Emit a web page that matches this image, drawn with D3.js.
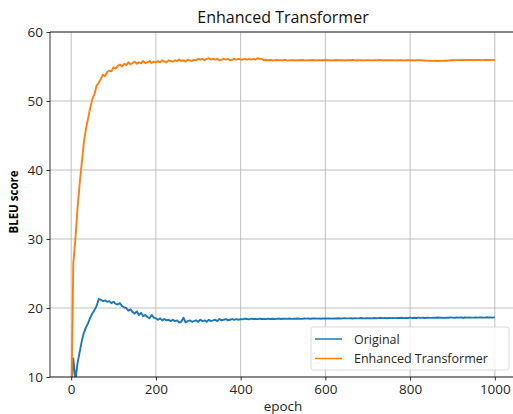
<!DOCTYPE html>
<html><head><meta charset="utf-8">
<script src="https://cdn.jsdelivr.net/npm/d3@7"></script>
<style>body{margin:0;background:#fff}svg{display:block}text{font-family:"Open Sans","Noto Sans",sans-serif}</style>
</head><body><svg id="c" width="513" height="414"></svg>
<script>
const title = "Enhanced Transformer";
const xLabel = "epoch";
const yLabel = "BLEU score";
const seriesNames = ["Original", "Enhanced Transformer"];
const seriesColors = ["#1f77b4", "#ff7f0e"];
const xTicks = [0, 200, 400, 600, 800, 1000];
const yTicks = [10, 20, 30, 40, 50, 60];
// epochs sampled every 5
const epochs = [0,5,10,15,20,25,30,35,40,45,50,55,60,65,70,75,80,85,90,95,100,105,110,115,120,125,130,135,140,145,150,155,160,165,170,175,180,185,190,195,200,205,210,215,220,225,230,235,240,245,250,255,260,265,270,275,280,285,290,295,300,305,310,315,320,325,330,335,340,345,350,355,360,365,370,375,380,385,390,395,400,405,410,415,420,425,430,435,440,445,450,455,460,465,470,475,480,485,490,495,500,505,510,515,520,525,530,535,540,545,550,555,560,565,570,575,580,585,590,595,600,605,610,615,620,625,630,635,640,645,650,655,660,665,670,675,680,685,690,695,700,705,710,715,720,725,730,735,740,745,750,755,760,765,770,775,780,785,790,795,800,805,810,815,820,825,830,835,840,845,850,855,860,865,870,875,880,885,890,895,900,905,910,915,920,925,930,935,940,945,950,955,960,965,970,975,980,985,990,995,1000];
const original = [
8,12.7,9.5,12.0,13.6,15.2,16.4,17.2,17.8,18.6,
19.2,19.7,20.3,21.3,21.2,21.0,21.1,20.9,21.0,20.7,
20.9,20.6,20.5,20.7,20.3,20.1,20.0,19.6,19.8,19.4,
19.2,19.5,19.0,19.3,18.8,19.0,18.7,18.5,19.0,18.6,
18.5,18.3,18.5,18.2,18.4,18.2,18.3,18.1,18.3,18.1,
18.2,17.9,18.0,18.6,17.9,18.1,18.2,18.0,18.1,18.2,
18.0,18.3,18.1,18.2,18.0,18.3,18.1,18.2,18.3,18.1,
18.4,18.2,18.3,18.4,18.2,18.3,18.4,18.3,18.4,18.3,
18.4,
18.35,18.45,18.4,18.35,18.45,18.4,18.42,18.38,18.45,18.4,
18.42,18.38,18.45,18.4,18.44,18.4,18.43,18.47,18.4,18.44,
18.45,18.42,18.47,18.43,18.46,18.44,18.48,18.45,18.43,18.47,
18.46,18.48,18.44,18.47,18.5,18.46,18.48,18.45,18.5,18.47,
18.48,18.5,18.46,18.5,18.48,18.52,18.48,18.5,18.53,18.49,
18.5,18.52,18.48,18.53,18.5,18.52,18.55,18.5,18.53,18.51,
18.53,18.5,18.55,18.52,18.54,18.58,18.53,18.55,18.52,18.56,
18.54,18.57,18.53,18.56,18.55,18.58,18.54,18.57,18.55,18.6,
18.56,18.58,18.55,18.6,18.57,18.59,18.56,18.6,18.58,18.57,
18.6,18.58,18.62,18.58,18.6,18.57,18.61,18.59,18.62,18.6,
18.58,18.62,18.6,18.63,18.59,18.62,18.6,18.64,18.61,18.6,
18.63,18.6,18.64,18.62,18.6,18.65,18.62,18.64,18.61,18.65];
const enhanced = [
4,26.5,30,34.5,38,41,44,46,47.5,49,
50.3,51,52.2,52.6,53.2,53.8,53.6,54.2,54.4,54.3,
54.9,54.7,55.1,55.3,55.0,55.4,55.2,55.6,55.3,55.5,
55.7,55.4,55.6,55.5,55.8,55.5,55.6,55.8,55.5,55.7,
55.6,55.8,55.6,55.9,55.7,55.6,55.9,55.8,55.7,55.9,
55.8,56.0,55.8,55.9,55.7,56.0,55.9,55.8,56.0,55.9,
56.1,56.0,56.1,55.9,56.1,56.2,56.0,56.1,56.0,56.1,
55.9,56.0,56.1,56.0,56.1,55.9,56.0,56.1,56.0,56.1,
56.0,
56.0,56.1,56.0,56.1,56.0,56.1,56.0,56.2,56.1,56.1,
55.9,55.95,55.9,55.95,55.88,55.9,55.95,55.9,55.92,55.9,
55.95,55.88,55.9,55.93,55.9,55.87,55.92,55.9,55.95,55.9,
55.88,55.92,55.9,55.95,55.9,55.88,55.93,55.9,55.9,55.95,
55.9,55.92,55.88,55.9,55.95,55.9,55.9,55.93,55.88,55.9,
55.92,55.9,55.95,55.88,55.9,55.92,55.9,55.87,55.9,55.93,
55.9,55.88,55.92,55.9,55.9,55.95,55.88,55.9,55.92,55.9,
55.9,55.93,55.88,55.9,55.92,55.9,55.87,55.9,55.93,55.9,
55.92,55.88,55.9,55.9,55.93,55.88,55.86,55.85,55.83,55.85,
55.82,55.84,55.8,55.83,55.82,55.85,55.84,55.88,55.9,55.92,
55.9,55.93,55.95,55.92,55.95,55.93,55.96,55.94,55.95,55.93,
55.95,55.94,55.96,55.93,55.95,55.94,55.96,55.95,55.93,55.95];
const seriesData = [original, enhanced];

const FONT = '"Open Sans","Noto Sans",sans-serif';
const svg = d3.select("#c");
const L = 50, R = 516, T = 32, B = 377;
const x = d3.scaleLinear().domain([-50, 1050]).range([L, R]);
const y = d3.scaleLinear().domain([10, 60]).range([B, T]);

svg.append("defs").append("clipPath").attr("id","clip")
  .append("rect").attr("x",L).attr("y",T).attr("width",R-L).attr("height",B-T);

// grid
const grid = svg.append("g");
grid.selectAll(".vx").data(xTicks).enter().append("line")
  .attr("x1",d=>x(d)).attr("x2",d=>x(d)).attr("y1",T).attr("y2",B)
  .attr("stroke","#b0b0b0").attr("stroke-width",0.8);
grid.selectAll(".hy").data(yTicks).enter().append("line")
  .attr("x1",L).attr("x2",R).attr("y1",d=>y(d)).attr("y2",d=>y(d))
  .attr("stroke","#b0b0b0").attr("stroke-width",0.8);

// lines
const line = d3.line().x((d,i)=>x(epochs[i])).y(d=>y(d));
const lg = svg.append("g").attr("clip-path","url(#clip)");
seriesData.forEach((s,k)=>{
  lg.append("path").datum(s).attr("d",line).attr("fill","none")
    .attr("stroke",seriesColors[k]).attr("stroke-width",1.9).attr("stroke-linejoin","round");
});

// axes
const fs = 13.5;
const xa = svg.append("g").attr("transform",`translate(0,${B})`)
  .call(d3.axisBottom(x).tickValues(xTicks).tickFormat(d3.format("d")).tickSize(3.5).tickPadding(3.5).tickSizeOuter(0));
const ya = svg.append("g").attr("transform",`translate(${L},0)`)
  .call(d3.axisLeft(y).tickValues(yTicks).tickFormat(d3.format("d")).tickSize(3.5).tickPadding(3.5).tickSizeOuter(0));
[xa,ya].forEach(a=>{
  a.select(".domain").remove();
  a.selectAll("line").attr("stroke","#000").attr("stroke-width",0.8);
  a.selectAll("text").attr("font-size",fs).attr("fill","#262626").attr("font-family",FONT);
});
// spines
[[L,L,T,B],[L,R,B,B],[L,R,T,T],[R,R,T,B]].forEach(s=>{
  svg.append("line").attr("x1",s[0]).attr("x2",s[1]).attr("y1",s[2]).attr("y2",s[3])
    .attr("stroke","#000").attr("stroke-width",0.8);
});

// title and labels
svg.append("text").attr("x",(L+R)/2).attr("y",23).attr("text-anchor","middle")
  .attr("font-size",16).attr("fill","#111").text(title);
svg.append("text").attr("x",(L+R)/2).attr("y",411).attr("text-anchor","middle")
  .attr("font-size",fs).attr("fill","#262626").text(xLabel);
svg.append("text").attr("transform",`translate(18,202) rotate(-90)`).attr("text-anchor","middle")
  .attr("font-size",11.5).attr("font-weight","bold").attr("fill","#000").text(yLabel);

// legend
const leg = svg.append("g");
leg.append("rect").attr("x",311).attr("y",327).attr("width",198).attr("height",43).attr("rx",2.5)
  .attr("fill","#fff").attr("fill-opacity",0.8).attr("stroke","#d0d0d0").attr("stroke-width",0.8);
seriesNames.forEach((n,k)=>{
  const yy = 339 + k*19.5;
  leg.append("line").attr("x1",315).attr("x2",342).attr("y1",yy).attr("y2",yy)
    .attr("stroke",seriesColors[k]).attr("stroke-width",1.5);
  leg.append("text").attr("x",354).attr("y",yy+4.5).attr("font-size",12.5).attr("fill","#262626").text(n);
});
</script></body></html>
